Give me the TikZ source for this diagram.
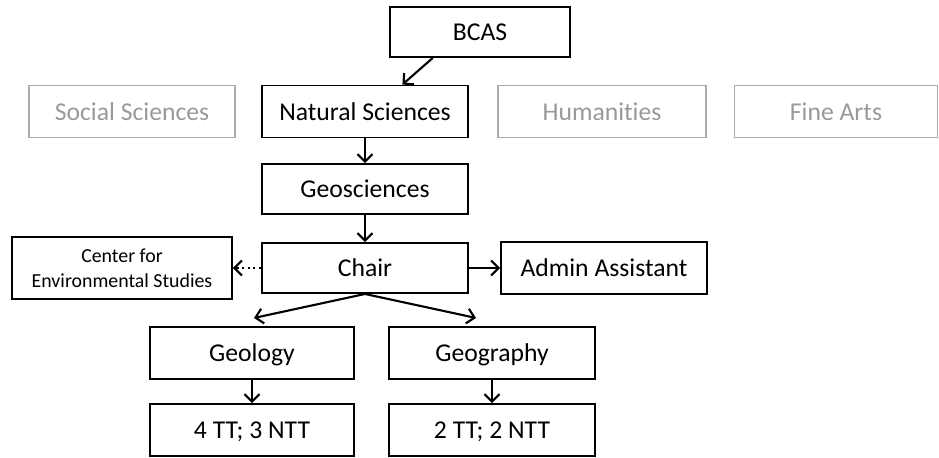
\documentclass[tikz,border=0pt]{standalone}
\usepackage{fontspec}
\setmainfont{Carlito}[Ligatures=NoCommon]
\usetikzlibrary{arrows.meta, calc, positioning}

\begin{document}
\begin{tikzpicture}[
    x=0.02cm, y=-0.02cm, % one unit = one pixel of the layout
    >={Straight Barb[length=4.2pt, width=8.5pt]}, % Default arrow tip
    box/.style={draw, line width=1.1pt, inner sep=0pt, minimum width=4.12cm, minimum height=1.04cm}, % Plain box
    unit/.style={box, font=\fontsize{14.6}{17}\selectfont, text height=2.1ex, text depth=0pt}, % Style for one-line boxes
    other/.style={unit, draw=black!33, text=black!40}, % Style for the greyed-out colleges
    link/.style={->, line width=1.2pt}, % Style for reporting lines
    loose/.style={link, dotted} % Style for the dotted line
]
    \useasboundingbox (0,0) rectangle (939,457);

    % --- College level ---
    \node[unit, minimum width=3.6cm, minimum height=1cm] (bcas) at (480,32) {BCAS};
    \node[other] (social) at (132,111.5) {Social Sciences};
    \node[unit] (natural) at (365,111.5) {Natural Sciences};
    \node[other, minimum width=4.16cm] (humanities) at (602,111.5) {Humanities};
    \node[other, minimum width=4.06cm] (finearts) at (836,111.5) {Fine Arts};

    % --- Department level ---
    \node[unit, minimum height=1cm] (geosciences) at (365,189) {Geosciences};
    \node[unit, minimum height=1cm] (chair) at (365,268) {Chair};
    \node[box, minimum width=4.4cm, minimum height=1.24cm, align=center,
          font=\fontsize{11.3}{14.5}\selectfont] (center) at (122,268) {Center for\\Environmental Studies};
    \node[unit] (admin) at (604,268) {Admin Assistant};

    % --- Programs ---
    \node[unit, minimum width=4.08cm] (geology) at (252,353) {Geology};
    \node[unit, minimum width=4.12cm] (geography) at (492,353) {Geography};
    \node[unit, minimum width=4.08cm] (geologyfac) at (252,430) {4 TT; 3 NTT};
    \node[unit, minimum width=4.12cm] (geographyfac) at (492,430) {2 TT; 2 NTT};

    % Free ends of the two split arrows
    \coordinate (toGeology) at ($(chair.south)+(-111,24)$);
    \coordinate (toGeography) at ($(chair.south)+(111,24)$);

    % --- Connectors ---
    \draw[link] ($(bcas.south west)!0.24!(bcas.south east)$) -- ($(natural.north west)!0.68!(natural.north east)$);
    \draw[link] (natural) -- (geosciences);
    \draw[link] (geosciences) -- (chair);
    \draw[loose] (chair) -- (center);
    \draw[link] (chair) -- (admin);
    \draw[link] (chair.south) -- (toGeology);
    \draw[link] (chair.south) -- (toGeography);
    \draw[link] (geology) -- (geologyfac);
    \draw[link] (geography) -- (geographyfac);

\end{tikzpicture}
\end{document}
